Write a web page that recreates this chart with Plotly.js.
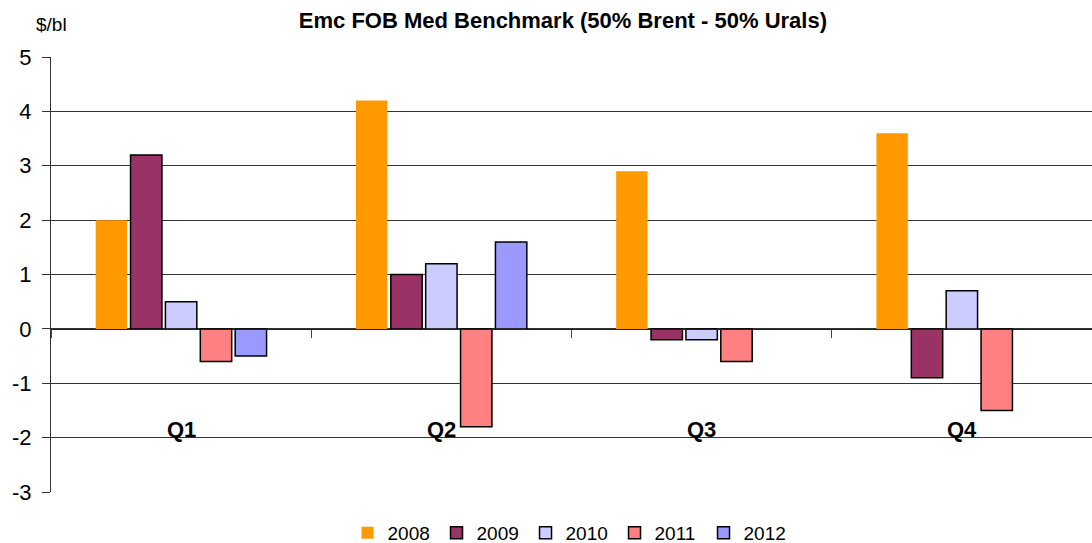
<!DOCTYPE html>
<html>
<head>
<meta charset="utf-8">
<script src="https://cdn.plot.ly/plotly-3.0.1.min.js"></script>
<style>html,body{margin:0;padding:0;background:#fff;}#chart{width:1092px;height:543px;}</style>
</head>
<body>
<div id="chart"></div>
<script>
const quarters = ["Q1", "Q2", "Q3", "Q4"];
const years = ["2008", "2009", "2010", "2011", "2012"];
const v2008 = [2.0, 4.2, 2.9, 3.6];
const v2009 = [3.2, 1.0, -0.2, -0.9];
const v2010 = [0.5, 1.2, -0.2, 0.7];
const v2011 = [-0.6, -1.8, -0.6, -1.5];
const v2012 = [-0.5, 1.6, null, null];
const yTickVals = [-3, -2, -1, 0, 1, 2, 3, 4, 5];
const yTickText = ["-3", "-2", "-1", "0", "1", "2", "3", "4", "5"];
const colors = ["#FF9900", "#993366", "#CCCCFF", "#FF8080", "#9999FF"];
const series = [v2008, v2009, v2010, v2011, v2012];
const FONT = "Liberation Sans, Arial, sans-serif";

const traces = series.map((vals, i) => ({
  type: "bar",
  name: years[i],
  x: quarters,
  y: vals,
  marker: {
    color: colors[i],
    line: {color: "#000", width: i === 0 ? 0 : 1.5}
  },
  hoverinfo: "skip"
}));

const annotations = quarters.map(q => ({
  x: q, y: -1.85, xref: "x", yref: "y",
  text: "<b>" + q + "</b>", showarrow: false,
  font: {family: FONT, size: 22, color: "#000"}
}));
annotations.push({
  x: 0, y: 1.08, xref: "paper", yref: "paper", xanchor: "left", yanchor: "middle",
  xshift: -17, yshift: -2,
  text: "$/bl", showarrow: false, font: {family: FONT, size: 19, color: "#000"}
});

const layout = {
  width: 1092, height: 543,
  margin: {l: 51, r: 0, t: 57, b: 51},
  paper_bgcolor: "#fff", plot_bgcolor: "#fff",
  font: {family: FONT, color: "#000"},
  title: {
    text: "<b>Emc FOB Med Benchmark (50% Brent - 50% Urals)</b>",
    font: {family: FONT, size: 22, color: "#000"},
    x: 0.5155, xanchor: "center", y: 0.963, yanchor: "middle"
  },
  barmode: "group",
  bargap: 0.33,
  bargroupgap: 0.1,
  xaxis: {
    type: "category",
    anchor: "free", position: 0.375,
    showline: true, linecolor: "#222", linewidth: 1,
    ticks: "outside", tickson: "boundaries", ticklen: 8, tickcolor: "#444", tickwidth: 1,
    showticklabels: false, showgrid: false, zeroline: false,
    fixedrange: true
  },
  yaxis: {
    range: [-3, 5],
    tickmode: "array", tickvals: yTickVals, ticktext: yTickText,
    showline: true, linecolor: "#333", linewidth: 1,
    ticks: "outside", ticklen: 8, tickcolor: "#333",
    showgrid: true, gridcolor: "#333", gridwidth: 1,
    zeroline: false,
    tickfont: {family: FONT, size: 22, color: "#000"},
    ticklabelstandoff: 6,
    automargin: false,
    fixedrange: true
  },
  legend: {
    orientation: "h",
    xref: "container", x: 0.522, xanchor: "center",
    yref: "container", y: 0.0184, yanchor: "middle",
    font: {family: FONT, size: 19, color: "#000"},
    entrywidth: 44, itemwidth: 30
  },
  annotations: annotations
};

Plotly.newPlot("chart", traces, layout, {displayModeBar: false, staticPlot: true});
</script>
</body>
</html>
